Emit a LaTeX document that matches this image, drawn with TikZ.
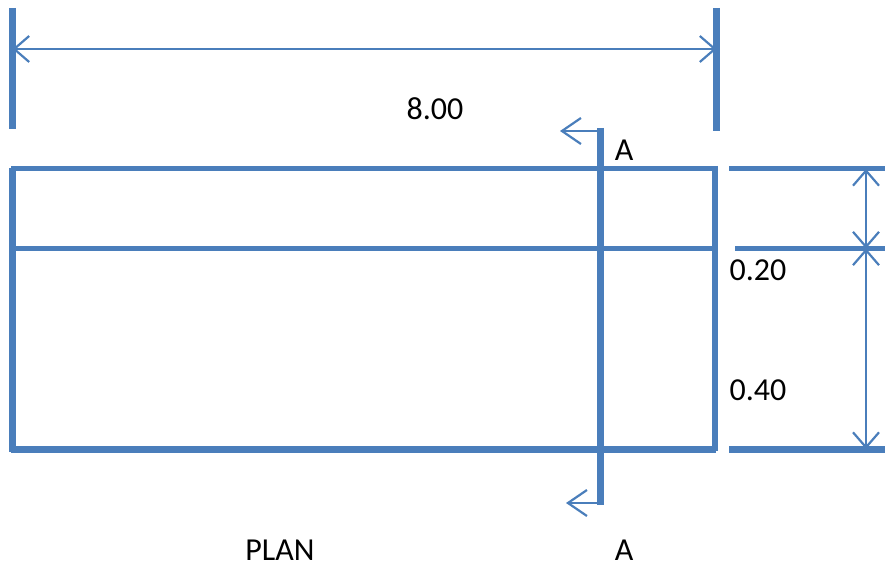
\documentclass[tikz,border=0pt]{standalone}
\usepackage{fontspec}
\setmainfont{Carlito}
\usepackage{xcolor}
\usetikzlibrary{arrows.meta, positioning}
\definecolor{planblue}{HTML}{4A7EBB}
\tikzset{
	thickline/.style={draw=planblue, line width=6.4pt},
	thinline/.style={draw=planblue, line width=5pt},
	dimline/.style={draw=planblue, line width=2.2pt, {Straight Barb[length=15pt,width=26pt]}-{Straight Barb[length=15pt,width=26pt]}},
	cutarrow/.style={draw=planblue, line width=2.2pt, -{Straight Barb[length=19pt,width=26pt]}},
	lbl/.style={inner sep=0pt, font=\fontsize{32}{32}\selectfont, text=black}
}
\begin{document}
\begin{tikzpicture}[x=1pt, y=-1pt]
	\useasboundingbox (0,0) rectangle (885,569);
	% witness lines of the top dimension
	\coordinate (wl) at (12.5,49);
	\coordinate (wr) at (716.5,49);
	\draw[thickline, line width=7pt] (12.5,8) -- (12.5,129);
	\draw[thickline, line width=7pt] (716.5,8) -- (716.5,131);
	\draw[dimline] (wl) -- (wr);
	% plan outline
	\draw[thinline] (11,168.5) -- (717,168.5);
	\draw[thinline] (13,248.5) -- (715,248.5);
	\draw[thickline] (11,449.3) -- (716,449.3);
	\draw[thickline, line width=7pt] (12.5,168) -- (12.5,452);
	\draw[thickline] (715,166) -- (715,451);
	% section line
	\coordinate (atop) at (600.5,131);
	\coordinate (abot) at (600.5,503);
	\coordinate (atip) at (560,131);
	\coordinate (btip) at (566,503);
	\draw[thickline] (600.5,128) -- (600.5,505);
	\draw[cutarrow] (atop) -- (atip);
	\draw[cutarrow] (abot) -- (btip);
	% dimensions on the right
	\draw[thinline] (729,168.5) -- (885,168.5);
	\draw[thinline] (735,248.5) -- (885,248.5);
	\draw[thickline] (729,449.3) -- (885,449.3);
	\coordinate (d1) at (866,169);
	\coordinate (d2) at (866,248.5);
	\coordinate (d3) at (866,449);
	\draw[dimline] (d1) -- (d2);
	\draw[dimline] (d2) -- (d3);
	% labels
	\node[lbl] (len) at (435,109) {8.00};
	\node[lbl] (a1) at (624,150) {A};
	\node[lbl] (h1) at (758,270) {0.20};
	\node[lbl] (h2) at (758,390) {0.40};
	\node[lbl] (plan) at (280,550) {PLAN};
	\node[lbl] (a2) at (624,550) {A};
\end{tikzpicture}
\end{document}
